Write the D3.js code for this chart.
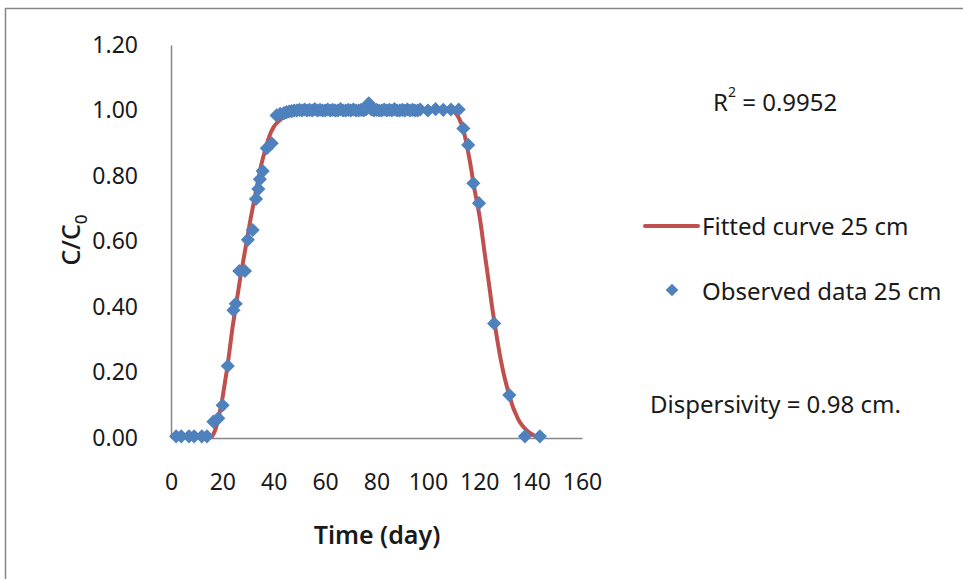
<!DOCTYPE html>
<html>
<head>
<meta charset="utf-8">
<script src="https://cdn.jsdelivr.net/npm/d3@7"></script>
<style>
  html, body { margin: 0; padding: 0; background: #fff; }
  svg text { font-family: "Noto Sans", "Open Sans", sans-serif; fill: #1a1a1a; }
</style>
</head>
<body>
<div id="chart"></div>
<script>
// observed data 25 cm (day, C/C0)
const obsDay = [2, 4, 7, 9, 12, 14,
  16.5, 18.4, 20.1, 22.1, 24.3, 25.2, 26.6, 28.8, 29.9, 31.8, 33.1, 34, 34.6, 35.7, 37.3, 39.2, 41.1, 42.5,
  44, 45, 46, 47, 48, 49, 50, 51, 52, 53, 54, 55, 56, 57, 58, 59, 60, 61, 62, 63, 64, 65, 66, 67, 68, 69, 70,
  71, 72, 73, 74, 75, 76, 77, 78, 79, 80, 81, 82, 83, 84, 85, 86, 87, 88, 89, 90, 91, 92, 93, 94, 95, 96,
  97, 100, 103, 106, 109, 112,
  113.8, 115.7, 117.7, 119.9, 125.8, 131.7, 137.8, 143.6];
const obsVal = [0.005, 0.005, 0.005, 0.005, 0.005, 0.005,
  0.05, 0.06, 0.10, 0.22, 0.39, 0.41, 0.51, 0.51, 0.605, 0.635, 0.73, 0.76, 0.79, 0.815, 0.885, 0.90, 0.985, 0.99,
  0.992, 0.995, 0.997, 0.998, 1.0, 1.0, 1.002, 1.0, 1.003, 1.0, 1.002, 1.0, 1.004, 1.0, 1.002, 1.0, 1.0, 1.003, 1.0, 1.002, 1.0, 1.0, 1.004, 1.0, 1.0, 1.002, 1.0,
  1.003, 1.0, 1.0, 1.002, 1.0, 1.004, 1.022, 1.003, 1.0, 1.002, 1.0, 1.0, 1.003, 1.0, 1.002, 1.0, 1.004, 1.0, 1.0, 1.002, 1.0, 1.003, 1.0, 1.002, 1.0, 1.0,
  1.003, 1.0, 1.004, 1.002, 1.003, 1.003,
  0.945, 0.895, 0.778, 0.717, 0.35, 0.131, 0.005, 0.005];

// fitted curve 25 cm
const fitDay = [15.5, 17, 18, 19, 20, 21, 22, 23, 24, 25, 26, 27, 28, 29, 30, 31, 32, 33, 34, 35, 36, 37, 38, 39, 40,
  42, 44, 47, 52, 58, 108, 110, 111, 112, 113, 114, 115, 116, 117, 118, 119, 120, 121, 122, 123, 124, 125,
  126, 127, 128, 129, 130, 131, 132, 133, 134, 135, 136, 137, 138, 139, 140, 141, 142, 143, 144];
const fitVal = [0, 0.02, 0.045, 0.08, 0.12, 0.17, 0.22, 0.28, 0.34, 0.39, 0.44, 0.49, 0.535, 0.58, 0.625, 0.67, 0.71, 0.75, 0.79, 0.83, 0.86, 0.89, 0.915, 0.935, 0.95,
  0.968, 0.98, 0.99, 0.997, 1.0, 1.0, 0.998, 0.99, 0.978, 0.96, 0.935, 0.9, 0.86, 0.815, 0.765, 0.725, 0.683, 0.63, 0.57, 0.515, 0.458, 0.4,
  0.35, 0.3, 0.255, 0.215, 0.18, 0.15, 0.123, 0.097, 0.078, 0.06, 0.046, 0.036, 0.027, 0.02, 0.014, 0.009, 0.005, 0.002, 0];

const xTicks = [0, 20, 40, 60, 80, 100, 120, 140, 160];
const yTicks = [0, 0.2, 0.4, 0.6, 0.8, 1.0, 1.2];

const seriesNames = ["Fitted curve 25 cm", "Observed data 25 cm"];
const r2Text = "0.9952";
const dispText = "Dispersivity = 0.98 cm.";

const WIDTH = 963, HEIGHT = 579;
const RED = "#C0504D", BLUE = "#4F81BD", AXIS = "#868686";

const svg = d3.select("#chart")
              .append("svg")
              .attr("width", WIDTH)
              .attr("height", HEIGHT);

// chart area border
svg.append("rect")
   .attr("x", 5.5).attr("y", 8.5)
   .attr("width", WIDTH).attr("height", HEIGHT)
   .attr("fill", "none")
   .attr("stroke", AXIS)
   .attr("stroke-width", 1.5);

const x = d3.scaleLinear().domain([0, 160]).range([171, 582]);
const y = d3.scaleLinear().domain([0, 1.2]).range([438, 45]);

// y axis
const gy = svg.append("g")
   .attr("transform", "translate(" + x(0) + ",0)")
   .call(d3.axisLeft(y).tickValues(yTicks).tickFormat(d3.format(".2f")).tickSize(0).tickPadding(33));
gy.select(".domain").attr("stroke", AXIS).attr("stroke-width", 1.5);
gy.selectAll("text").style("font-size", "23px").attr("fill", "#1a1a1a");

// x axis
const gx = svg.append("g")
   .attr("transform", "translate(0," + y(0) + ")")
   .call(d3.axisBottom(x).tickValues(xTicks).tickFormat(d3.format("d")).tickSize(0).tickPadding(36));
gx.select(".domain").attr("stroke", AXIS).attr("stroke-width", 1.5);
gx.selectAll("text").style("font-size", "23px").attr("fill", "#1a1a1a");

// axis titles
svg.append("text")
   .attr("x", 377).attr("y", 544)
   .attr("text-anchor", "middle")
   .style("font-size", "25px").style("font-weight", "600")
   .text("Time (day)");

const yt = svg.append("text")
   .attr("transform", "translate(80,240) rotate(-90)")
   .attr("text-anchor", "middle")
   .style("font-size", "25px").style("font-weight", "500");
yt.append("tspan").text("C/C");
yt.append("tspan").attr("dy", 7).style("font-size", "17px").text("0");

// fitted curve
const fitData = fitDay.map((d, i) => [d, fitVal[i]]);
const line = d3.line()
   .x(d => x(d[0]))
   .y(d => y(d[1]))
   .curve(d3.curveMonotoneX);

svg.append("path")
   .datum(fitData)
   .attr("d", line)
   .attr("fill", "none")
   .attr("stroke", RED)
   .attr("stroke-width", 4)
   .attr("stroke-linejoin", "round");

// observed points (diamonds)
const obsData = obsDay.map((d, i) => [d, obsVal[i]]);
const diamond = d3.symbol().type(d3.symbolSquare).size(100);

svg.selectAll("path.obs")
   .data(obsData)
   .enter()
   .append("path")
      .attr("class", "obs")
      .attr("d", diamond)
      .attr("transform", d => "translate(" + x(d[0]) + "," + y(d[1]) + ") rotate(45)")
      .attr("fill", BLUE);

// legend
svg.append("line")
   .attr("x1", 645).attr("x2", 698)
   .attr("y1", 226).attr("y2", 226)
   .attr("stroke", RED).attr("stroke-width", 4).attr("stroke-linecap", "round");
svg.append("text")
   .attr("x", 702).attr("y", 235)
   .style("font-size", "24px")
   .text(seriesNames[0]);

svg.append("path")
   .attr("d", d3.symbol().type(d3.symbolSquare).size(80))
   .attr("transform", "translate(672,290) rotate(45)")
   .attr("fill", BLUE);
svg.append("text")
   .attr("x", 702).attr("y", 300)
   .style("font-size", "24px")
   .text(seriesNames[1]);

// annotations
const r2 = svg.append("text")
   .attr("x", 713).attr("y", 111)
   .style("font-size", "24px");
r2.append("tspan").text("R");
r2.append("tspan").attr("dy", -14).style("font-size", "14px").text("2");
r2.append("tspan").attr("dy", 14).text(" = " + r2Text);

svg.append("text")
   .attr("x", 650).attr("y", 413)
   .style("font-size", "24px")
   .text(dispText);
</script>
</body>
</html>
